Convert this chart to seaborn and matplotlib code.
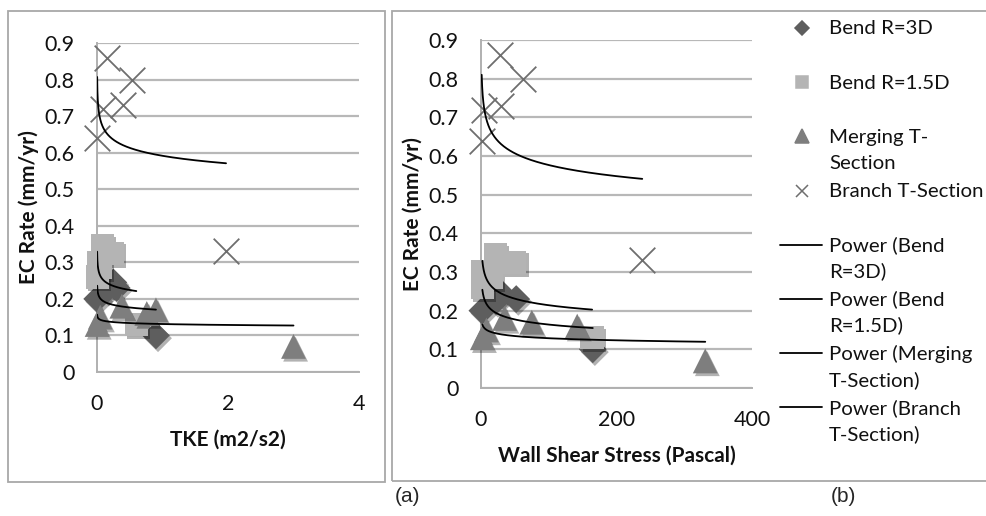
import numpy as np
import pandas as pd
import seaborn as sns
import matplotlib.pyplot as plt
import matplotlib.patheffects as pe
from matplotlib.lines import Line2D
from matplotlib.patches import Rectangle

# values (EC rate in mm/yr, TKE in m2/s2, WSS in Pa)
series_names = ['Bend R=3D', 'Bend R=1.5D', 'Merging T-Section', 'Branch T-Section']

ec_bend3d = [0.20, 0.225, 0.245, 0.23, 0.10]
tke_bend3d = [0.003, 0.15, 0.25, 0.30, 0.90]
wss_bend3d = [2.0, 22, 30, 52, 165]

ec_bend15d = [0.345, 0.325, 0.30, 0.285, 0.26, 0.13]
tke_bend15d = [0.08, 0.23, 0.02, 0.05, 0.002, 0.60]
wss_bend15d = [21, 50, 3.0, 15, 2.0, 164]

ec_merging = [0.13, 0.15, 0.18, 0.17, 0.16, 0.07]
tke_merging = [0.002, 0.05, 0.38, 0.90, 0.76, 3.0]
wss_merging = [2.0, 8, 35, 75, 142, 331]

ec_branch = [0.86, 0.80, 0.72, 0.73, 0.64, 0.33]
tke_branch = [0.15, 0.53, 0.09, 0.40, 0.0025, 1.97]
wss_branch = [28, 62, 4.0, 30, 1.0, 238]

y_ticks = [0, 0.1, 0.2, 0.3, 0.4, 0.5, 0.6, 0.7, 0.8, 0.9]
y_ticklabels = ['0', '0.1', '0.2', '0.3', '0.4', '0.5', '0.6', '0.7', '0.8', '0.9']
tke_ticks = [0, 2, 4]
wss_ticks = [0, 200, 400]

legend_labels = ['Bend R=3D', 'Bend R=1.5D', 'Merging T-\nSection', 'Branch T-Section',
                 'Power (Bend\nR=3D)', 'Power (Bend\nR=1.5D)', 'Power (Merging\nT-Section)',
                 'Power (Branch\nT-Section)']

df = pd.DataFrame({
    'series': sum([[n] * len(e) for n, e in zip(series_names, [ec_bend3d, ec_bend15d, ec_merging, ec_branch])], []),
    'ec': ec_bend3d + ec_bend15d + ec_merging + ec_branch,
    'tke': tke_bend3d + tke_bend15d + tke_merging + tke_branch,
    'wss': wss_bend3d + wss_bend15d + wss_merging + wss_branch,
})

sns.set_style('white')
plt.rcParams['font.family'] = ['Lato', 'DejaVu Sans']

styles = {
    'Bend R=3D': dict(marker='D', color='#5e5e5e', s=200),
    'Bend R=1.5D': dict(marker='s', color='#b4b4b4', s=280),
    'Merging T-Section': dict(marker='^', color='#7e7e7e', s=320),
    'Branch T-Section': dict(marker='x', color='#6e6e6e', s=340),
}
shadow = [pe.SimplePatchShadow(offset=(1.5, -2), alpha=0.3, shadow_rgbFace='black'), pe.Normal()]


def power_fit(x, y):
    # Excel-style power trendline: least squares on log-log
    b, ln_a = np.polyfit(np.log(x), np.log(y), 1)
    xs = np.geomspace(min(x), max(x), 300)
    return xs, np.exp(ln_a) * xs ** b


fig = plt.figure(figsize=(9.86, 5.16), dpi=100)
W, H = 986, 516


def fx(x):
    return x / W


def fy(y):
    return 1 - y / H


# panel frames
fig.add_artist(Rectangle((fx(8), fy(482)), fx(385) - fx(8), fy(11) - fy(482),
                         transform=fig.transFigure, fill=False, ec='#a8a8a8', lw=1.3))
fig.add_artist(Rectangle((fx(392), fy(481)), fx(990) - fx(392), fy(11) - fy(481),
                         transform=fig.transFigure, fill=False, ec='#a8a8a8', lw=1.3, clip_on=False))

ax1 = fig.add_axes([fx(97), fy(372), fx(359) - fx(97), fy(43) - fy(372)])
ax2 = fig.add_axes([fx(481), fy(388), fx(752) - fx(481), fy(40) - fy(388)])

panels = [(ax1, 'tke', 'TKE (m2/s2)', tke_ticks, 4),
          (ax2, 'wss', 'Wall Shear Stress (Pascal)', wss_ticks, 400)]

for ax, col, xlabel, xticks, xmax in panels:
    for name in series_names:
        sub = df[df['series'] == name]
        st = styles[name]
        if st['marker'] == 'x':
            sns.scatterplot(data=sub, x=col, y='ec', ax=ax, marker='x', s=st['s'],
                            color=st['color'], linewidth=1.3, clip_on=False, zorder=3)
        else:
            sns.scatterplot(data=sub, x=col, y='ec', ax=ax, marker=st['marker'], s=st['s'],
                            color=st['color'], edgecolor='none', clip_on=False, zorder=3)
            ax.collections[-1].set_path_effects(shadow)
    for name in series_names:
        sub = df[df['series'] == name]
        xs, ys = power_fit(sub[col].values, sub['ec'].values)
        ax.plot(xs, ys, color='black', lw=1.3, zorder=4)

    ax.set_xlim(0, xmax)
    ax.set_ylim(0, 0.9)
    ax.set_yticks(y_ticks)
    ax.set_yticklabels(y_ticklabels)
    ax.set_xticks(xticks)
    ax.set_xticklabels([str(t) for t in xticks])
    ax.yaxis.grid(True, color='#b8b8b8', lw=1.6)
    ax.set_axisbelow(True)
    for s in ['top', 'right']:
        ax.spines[s].set_visible(False)
    for s in ['left', 'bottom']:
        ax.spines[s].set_color('#b0b0b0')
        ax.spines[s].set_linewidth(1.4)
    ax.tick_params(axis='both', which='major', direction='out', length=6, width=1.3,
                   color='#b0b0b0', labelsize=15.5, labelcolor='#111111', pad=10)
    ax.set_xlabel(xlabel, fontsize=15, fontweight='bold', labelpad=11, color='#111111')
    ax.set_ylabel('EC Rate (mm/yr)', fontsize=15, fontweight='bold', labelpad=4, color='#111111')

# legend in Excel layout: one slot per entry, marker aligned with first line
legend_markers = [('D', '#5e5e5e', 7), ('s', '#b4b4b4', 9), ('^', '#7e7e7e', 10),
                  ('x', '#6e6e6e', 9)]
for i, label in enumerate(legend_labels):
    yc = 28 + 54.2 * i
    if i < 4:
        m, c, ms = legend_markers[i]
        fig.add_artist(Line2D([fx(802)], [fy(yc)], transform=fig.transFigure, marker=m,
                              color=c, markersize=ms, ls='none', mew=1.1))
    else:
        fig.add_artist(Line2D([fx(780), fx(822)], [fy(yc), fy(yc)], transform=fig.transFigure,
                              color='black', lw=1.3))
    for k, line in enumerate(label.split('\n')):
        fig.text(fx(829), fy(yc + 6.5 + 26 * k), line, fontsize=14.7, va='baseline',
                 ha='left', color='#111111')

fig.text(fx(408), fy(497), '(a)', fontsize=15, family='Liberation Sans', ha='center', va='center')
fig.text(fx(843), fy(497), '(b)', fontsize=15, family='Liberation Sans', ha='center', va='center')

fig.savefig('out.png', dpi=100)
